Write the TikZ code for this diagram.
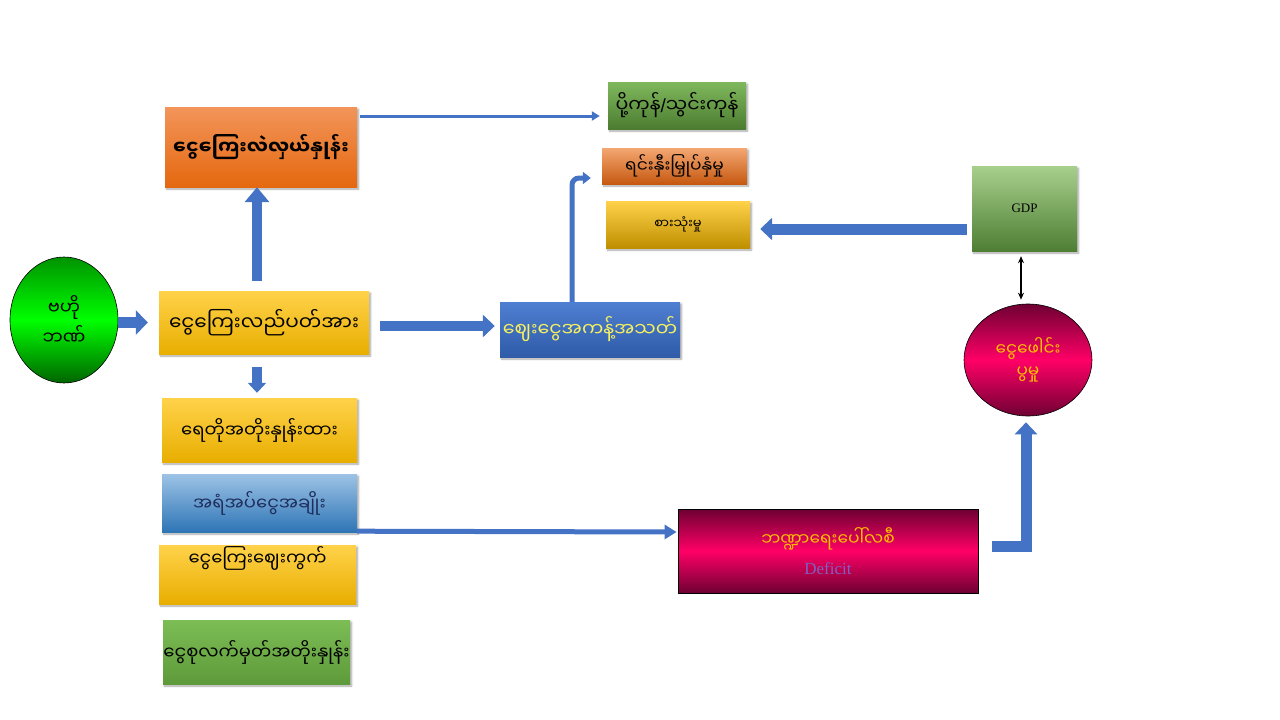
\documentclass[tikz,border=0pt]{standalone}
\usepackage{fontspec}
\setmainfont{Liberation Serif}
\newfontfamily\mm[Script=Myanmar]{Noto Sans Myanmar UI}
\newfontfamily\lsans{Liberation Sans}
\usetikzlibrary{arrows.meta,shadows.blur,calc,shapes.geometric}
\definecolor{arblue}{HTML}{4472C4}
\definecolor{orTop}{HTML}{F2955A}
\definecolor{orBot}{HTML}{E5680F}
\definecolor{ylTop}{HTML}{FFD24A}
\definecolor{ylBot}{HTML}{E8AE00}
\definecolor{ylBot2}{HTML}{BF8F00}
\definecolor{grTop}{HTML}{7FB85C}
\definecolor{grBot}{HTML}{4C7C31}
\definecolor{gdpTop}{HTML}{A8D08D}
\definecolor{gdpBot}{HTML}{4E7E33}
\definecolor{sgTop}{HTML}{7CBD55}
\definecolor{sgBot}{HTML}{5E9A3A}
\definecolor{ivTop}{HTML}{F4A772}
\definecolor{ivBot}{HTML}{C65911}
\definecolor{blTop}{HTML}{4F7FD2}
\definecolor{blBot}{HTML}{2F5BA8}
\definecolor{lbTop}{HTML}{9DC3E6}
\definecolor{lbBot}{HTML}{2E75B6}
\definecolor{crMid}{HTML}{FF0066}
\definecolor{crEdge}{HTML}{6E0033}
\definecolor{gnMid}{HTML}{00FF00}
\definecolor{gnEdge}{HTML}{006400}
\definecolor{txYel}{HTML}{F5F060}
\definecolor{txGold}{HTML}{FFC000}
\definecolor{txPurp}{HTML}{7F60C0}
\definecolor{txNavy}{HTML}{1F2E5C}
\newcommand{\fsz}[1]{\fontsize{#1}{#1}\selectfont}
\begin{document}
\begin{tikzpicture}[x=1pt,y=-1pt,
  box/.style={inner sep=0pt, align=center, blur shadow={shadow xshift=1.5pt, shadow yshift=-2pt, shadow blur steps=6, shadow opacity=35}},
  bigarrow/.style={draw=arblue, line width=#1},
  thinarrow/.style={draw=arblue, line width=#1}]
\useasboundingbox (0,0) rectangle (1280,720);

% nodes
\node[box, minimum width=192pt, minimum height=80pt, top color=orTop, bottom color=orBot, font=\mm\bfseries\fsz{19}]
  (exch) at (261,147) {ငွေကြေးလဲလှယ်နှုန်း};
\node[box, minimum width=138pt, minimum height=47pt, top color=grTop, bottom color=grBot, font=\mm\fsz{19}]
  (expimp) at (677,105.5) {ပို့ကုန်{\lsans/}သွင်းကုန်};
\node[box, minimum width=145pt, minimum height=36pt, top color=ivTop, bottom color=ivBot, font=\mm\fsz{17}]
  (invest) at (674.5,166) {ရင်းနှီးမြှုပ်နှံမှု};
\node[box, minimum width=144pt, minimum height=47pt, top color=ylTop, bottom color=ylBot2, font=\mm\fsz{13}]
  (consum) at (678,224.5) {စားသုံးမှု};
\node[ellipse, draw=black, line width=0.6pt, inner sep=0pt, minimum width=108pt, minimum height=126pt,
  top color=gnEdge!70!gnMid, bottom color=gnEdge, middle color=gnMid, align=center, font=\mm\fsz{18}]
  (cbank) at (64,320) {ဗဟို\\[6pt]ဘဏ်};
\node[box, minimum width=210pt, minimum height=63pt, top color=ylTop, bottom color=ylBot, font=\mm\fsz{20}]
  (circ) at (264,322.5) {ငွေကြေးလည်ပတ်အား};
\node[box, minimum width=180pt, minimum height=55pt, top color=blTop, bottom color=blBot, text=txYel, font=\mm\fsz{19}]
  (plimit) at (590,329.5) {ဈေးငွေအကန့်အသတ်};
\node[box, minimum width=105pt, minimum height=85pt, top color=gdpTop, bottom color=gdpBot, font=\fsz{13}]
  (gdp) at (1024.5,208.5) {GDP};
\node[ellipse, draw=black, line width=0.6pt, inner sep=0pt, minimum width=128pt, minimum height=112pt,
  top color=crEdge, bottom color=crEdge, middle color=crMid, text=txGold, align=center, font=\mm\fsz{17}]
  (infl) at (1028,360) {ငွေဖေါင်း\\[5pt]ပွမှု};
\node[box, minimum width=195pt, minimum height=64pt, top color=ylTop, bottom color=ylBot, font=\mm\fsz{18}]
  (short) at (259.5,430) {ရေတိုအတိုးနှုန်းထား};
\node[box, minimum width=195pt, minimum height=58pt, top color=lbTop, bottom color=lbBot, text=txNavy, font=\mm\fsz{18}]
  (reserve) at (259.5,503) {အရံအပ်ငွေအချိုး};
\node[box, minimum width=197pt, minimum height=59pt, top color=ylTop, bottom color=ylBot, text depth=36pt, font=\mm\fsz{18}]
  (mmarket) at (257.5,574.5) {ငွေကြေးဈေးကွက်};
\node[box, minimum width=187pt, minimum height=64pt, top color=sgTop, bottom color=sgBot, font=\mm\fsz{18}]
  (savings) at (256.5,652) {ငွေစုလက်မှတ်အတိုးနှုန်း};
\node[draw=black, line width=0.8pt, inner sep=0pt, minimum width=300pt, minimum height=84pt,
  top color=crEdge, bottom color=crEdge, middle color=crMid, align=center, font=\fsz{17}]
  (fiscal) at (828,551) {{\mm\color{txGold}ဘဏ္ဍာရေးပေါ်လစီ}\\[12pt]{\color{txPurp}Deficit}};

% connectors
\draw[bigarrow=11pt, -{Triangle[width=24pt,length=12pt]}]
  (cbank.east |- circ.west) -- ($(circ.west)+(-11,0)$);
\draw[bigarrow=10pt, -{Triangle[width=24pt,length=15pt]}]
  ($(circ.north)+(-7,-10)$) -- ($(exch.south)+(-4,0)$);
\draw[bigarrow=10pt, -{Triangle[width=18pt,length=10pt]}]
  ($(circ.south)+(-7,13)$) -- ($(short.north)+(-2.5,-5)$);
\draw[bigarrow=10pt, -{Triangle[width=22pt,length=12pt]}]
  ($(circ.east)+(11,3.5)$) -- ($(plimit.west)+(-5,-3.5)$);
\draw[thinarrow=5pt, rounded corners=7pt, -{Triangle[width=12pt,length=8pt]}]
  ($(plimit.north)+(-18,0)$) |- ($(invest.west)+(-11,12)$);
\draw[thinarrow=3pt, -{Triangle[width=9pt,length=8pt]}]
  ($(exch.east)+(3,-31)$) -- ($(expimp.west)+(-8,10.5)$);
\draw[bigarrow=11pt, -{Triangle[width=22pt,length=12pt]}]
  ($(gdp.west)+(-5,20.5)$) -- ($(consum.east)+(10,4.5)$);
\draw[black, line width=1.2pt, {Stealth[length=7pt,width=6pt]}-{Stealth[length=7pt,width=6pt]}]
  ($(gdp.south)+(-3.5,5)$) -- ($(infl.north)+(-7,-4)$);
\draw[thinarrow=5pt, -{Triangle[width=14pt,length=12pt]}]
  ($(reserve.south east)+(0,-1)$) -- ($(fiscal.west)+(-1,-19)$);
\draw[bigarrow=11pt, -{Triangle[width=22pt,length=12pt]}]
  ($(fiscal.east)+(14,-5)$) -| ($(infl.south)+(-2,6)$);
\end{tikzpicture}
\end{document}
